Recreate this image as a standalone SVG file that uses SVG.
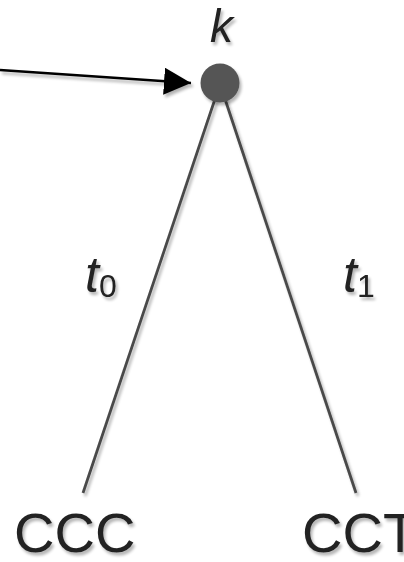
<svg xmlns="http://www.w3.org/2000/svg" width="404" height="562" viewBox="0 0 404 562">
<defs>
<filter id="sh" x="-20%" y="-20%" width="150%" height="150%">
<feGaussianBlur in="SourceAlpha" stdDeviation="1.5"/>
<feOffset dx="2" dy="3" result="b"/>
<feComponentTransfer><feFuncA type="linear" slope="0.3"/></feComponentTransfer>
<feMerge><feMergeNode/><feMergeNode in="SourceGraphic"/></feMerge>
</filter>
<marker id="ah2" viewBox="0 0 27 27" refX="27" refY="13.5" markerWidth="27" markerHeight="27" markerUnits="userSpaceOnUse" orient="auto">
<path d="M0,0 L27,13.5 L0,27 Z" fill="#000"/>
</marker>
</defs>
<style>
.lbl{font-family:"Liberation Sans",Arial,sans-serif;fill:#222;}
.edge{stroke:#4a4a4a;stroke-width:2.8;fill:none;}
</style>
<g id="connectors" filter="url(#sh)">
<line class="edge" x1="216" y1="96" x2="83" y2="493"/>
<line class="edge" x1="224" y1="96" x2="356" y2="493"/>
<line x1="0" y1="70" x2="191" y2="83" stroke="#000" stroke-width="2.5" marker-end="url(#ah2)"/>
</g>
<g id="node-k" filter="url(#sh)">
<circle cx="220" cy="83" r="19.5" fill="#555"/>
<text class="lbl" x="210" y="42" font-size="46" font-style="italic">k</text>
</g>
<g id="label-t0" filter="url(#sh)">
<text class="lbl" x="85" y="292" font-size="50" font-style="italic">t<tspan font-size="32" font-style="normal" dy="5">0</tspan></text>
</g>
<g id="label-t1" filter="url(#sh)">
<text class="lbl" x="343" y="292" font-size="50" font-style="italic">t<tspan font-size="32" font-style="normal" dy="5">1</tspan></text>
</g>
<g id="node-CCC" filter="url(#sh)">
<text class="lbl" x="14" y="552" font-size="56">CCC</text>
</g>
<g id="node-CCT" filter="url(#sh)">
<text class="lbl" x="302" y="552" font-size="56">CCT</text>
</g>
</svg>
